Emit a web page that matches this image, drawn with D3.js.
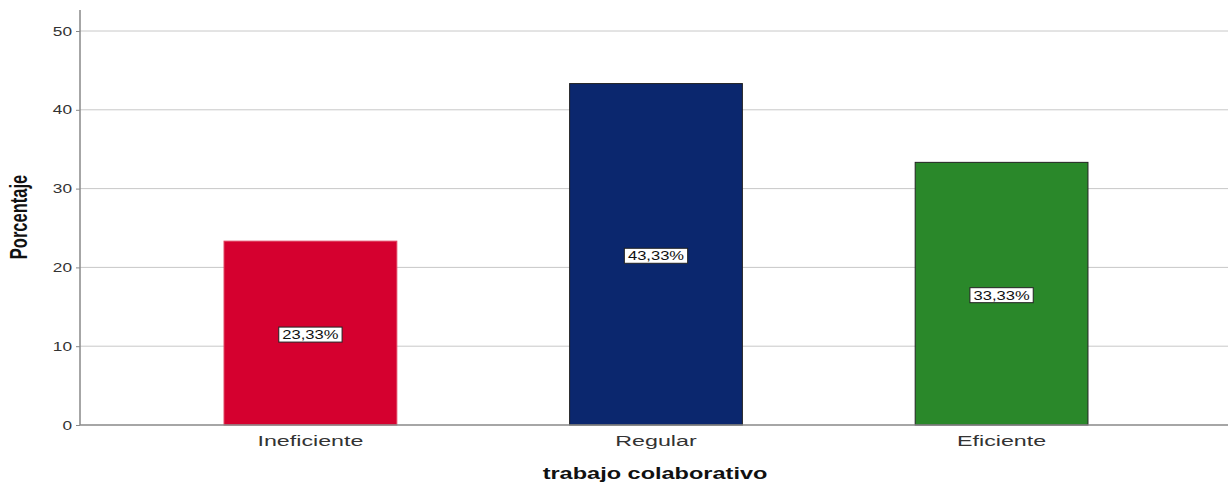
<!DOCTYPE html>
<html><head><meta charset="utf-8">
<script src="https://cdn.jsdelivr.net/npm/d3@7"></script>
<style>body{margin:0;background:#fff}</style>
</head><body>
<svg id="c" width="1230" height="483"></svg>
<script>
const categories = ["Ineficiente", "Regular", "Eficiente"];
const values = [23.33, 43.33, 33.33];
const labels = ["23,33%", "43,33%", "33,33%"];
const colors = ["#d5002f", "#0b276e", "#2a882a"];
const yTicks = [0, 10, 20, 30, 40, 50];

const svg = d3.select("#c");
const FONT = "Liberation Sans, Arial, sans-serif";
const pL = 80, pR = 1228, pT = 10, pB = 425;
const x = d3.scaleBand().domain(categories).range([pL + 2, pR + 2]).paddingInner(0.5).paddingOuter(0.411);
const y = d3.scaleLinear().domain([0, 50]).range([pB, 31]);

// gridlines
svg.append("g").selectAll("line").data(yTicks.filter(d => d > 0)).join("line")
  .attr("x1", pL).attr("x2", pR).attr("y1", d => y(d)).attr("y2", d => y(d))
  .attr("stroke", "#c8c8c8").attr("stroke-width", 1);

// y axis
const ya = svg.append("g").attr("transform", `translate(${pL},0)`)
  .call(d3.axisLeft(y).tickValues(yTicks).tickSize(4).tickPadding(8));
ya.select(".domain").remove();
ya.selectAll(".tick line").attr("stroke", "#888");
ya.selectAll(".tick text").attr("x", 0).attr("transform", "translate(-8,0) scale(1.38,1)")
  .attr("font-family", FONT).attr("font-size", 12.5).attr("fill", "#333");
svg.append("line").attr("x1", pL).attr("x2", pL).attr("y1", pT).attr("y2", pB).attr("stroke", "#888").attr("stroke-width", 1.5);

// bars
svg.append("g").selectAll("rect").data(categories).join("rect")
  .attr("x", d => x(d)).attr("width", x.bandwidth())
  .attr("y", (d, i) => y(values[i])).attr("height", (d, i) => y(0) - y(values[i]))
  .attr("fill", (d, i) => colors[i])
  .attr("stroke", (d, i) => i === 0 ? "#e0405f" : "#222").attr("stroke-width", 1);

// x axis
svg.append("line").attr("x1", pL).attr("x2", pR).attr("y1", pB).attr("y2", pB).attr("stroke", "#888").attr("stroke-width", 1.5);
const xa = svg.append("g").attr("transform", `translate(0,${pB})`)
  .call(d3.axisBottom(x).tickSize(0));
xa.select(".domain").remove();
xa.selectAll(".tick text").attr("y", 0).attr("dy", null).attr("transform", `translate(0,20.5) scale(1.5,1)`)
  .attr("font-family", FONT).attr("font-size", 15.5).attr("fill", "#333");

// value labels
const LS = 1.38;
const lg = svg.append("g").selectAll("g").data(categories).join("g")
  .attr("transform", (d, i) => `translate(${x(d) + x.bandwidth() / 2},${y(values[i] / 2) + 1.5})`);
lg.append("text").text((d, i) => labels[i])
  .attr("text-anchor", "middle").attr("dy", "0.36em").attr("transform", `scale(${LS},1)`)
  .attr("font-family", FONT).attr("font-size", 12).attr("fill", "#111");
lg.each(function () {
  const g = d3.select(this);
  const bb = g.select("text").node().getBBox();
  const w = bb.width * LS + 7;
  g.insert("rect", "text").attr("x", -w / 2).attr("y", -7.5).attr("width", w).attr("height", 15)
    .attr("fill", "#fff").attr("stroke", "#222").attr("stroke-width", 1);
});

// titles
svg.append("text").attr("transform", `translate(27,217) scale(1.4,1) rotate(-90)`)
  .attr("text-anchor", "middle").attr("font-family", FONT)
  .attr("font-weight", "bold").attr("font-size", 16.5).attr("fill", "#111").text("Porcentaje");
svg.append("text").attr("transform", `translate(655,479) scale(1.47,1)`).attr("text-anchor", "middle")
  .attr("font-family", FONT).attr("font-weight", "bold")
  .attr("font-size", 16).attr("fill", "#111").text("trabajo colaborativo");
</script>
</body></html>
